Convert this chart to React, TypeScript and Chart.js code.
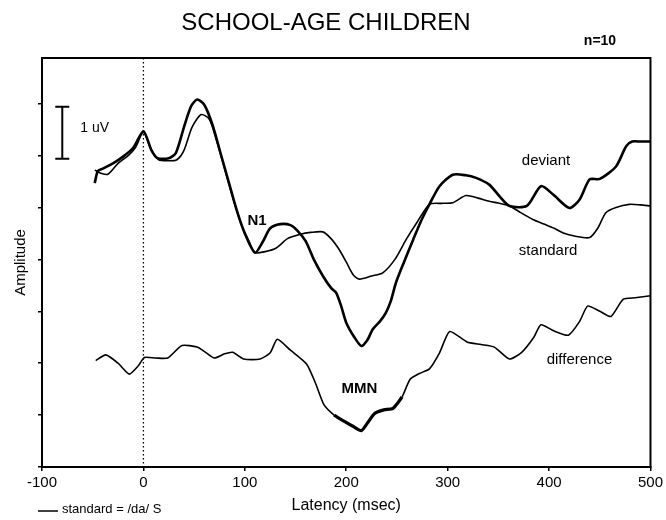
import React, { useEffect, useRef } from "react";
import { Chart, registerables } from "chart.js";

Chart.register(...registerables);

// ---- Data (latency in msec, amplitude in uV, arbitrary baseline) ----
const deviantLatency = [-48, -45, -40, -30, -20, -10, 0, 8, 14, 25, 32, 40, 47, 53, 60, 68, 76, 84, 92, 100, 110, 118, 125, 135, 145, 152, 160, 168, 177, 185, 190, 195, 200, 208, 215, 221, 226, 233, 239, 244, 249, 257, 266, 274, 282, 292, 305, 318, 328, 341, 351, 361, 378, 392, 404, 420, 430, 440, 450, 466, 476, 482, 490, 500];
const deviantAmp = [5.47, 5.7, 5.75, 5.85, 5.98, 6.15, 6.47, 6.1, 5.95, 5.95, 6.05, 6.55, 6.95, 7.08, 6.98, 6.6, 6.05, 5.5, 4.95, 4.5, 4.13, 4.35, 4.6, 4.68, 4.66, 4.55, 4.35, 4.0, 3.68, 3.45, 3.36, 3.1, 2.78, 2.5, 2.33, 2.45, 2.65, 2.8, 2.97, 3.2, 3.55, 3.95, 4.38, 4.75, 5.06, 5.41, 5.63, 5.62, 5.57, 5.44, 5.22, 5.03, 5.03, 5.41, 5.25, 4.99, 5.15, 5.54, 5.55, 5.79, 6.18, 6.27, 6.27, 6.27];

const standardLatency = [-48, -42, -35, -25, -15, -8, 0, 8, 15, 25, 33, 40, 48, 57, 65, 72, 80, 88, 96, 104, 110, 120, 131, 142, 154, 165, 177, 185, 193, 200, 207, 213, 225, 236, 248, 259, 270, 282, 294, 305, 318, 330, 341, 351, 361, 372, 384, 395, 405, 414, 425, 440, 448, 456, 466, 479, 490, 500];
const standardAmp = [5.72, 5.66, 5.64, 5.85, 6.0, 6.15, 6.45, 6.1, 5.92, 5.9, 5.92, 6.1, 6.55, 6.79, 6.7, 6.3, 5.75, 5.2, 4.7, 4.35, 4.13, 4.15, 4.22, 4.4, 4.48, 4.52, 4.53, 4.4, 4.19, 3.95, 3.7, 3.62, 3.68, 3.74, 4.0, 4.38, 4.72, 5.06, 5.08, 5.09, 5.23, 5.18, 5.12, 5.08, 5.03, 4.9, 4.77, 4.68, 4.6, 4.51, 4.45, 4.42, 4.6, 4.9, 5.0, 5.06, 5.05, 5.03];

const differenceLatency = [-47, -37, -25, -14, -5, 1, 12, 24, 38, 53, 62, 70, 80, 88, 99, 115, 125, 132, 145, 161, 170, 178, 188, 199, 207, 215, 221, 228, 237, 246, 255, 263, 272, 282, 292, 302, 319, 333, 346, 361, 373, 385, 392, 405, 419, 430, 438, 450, 461, 473, 485, 500];
const differenceAmp = [2.05, 2.16, 2.0, 1.79, 1.95, 2.11, 2.1, 2.1, 2.34, 2.31, 2.2, 2.1, 2.18, 2.21, 2.08, 2.08, 2.2, 2.46, 2.25, 1.98, 1.6, 1.2, 1.0, 0.87, 0.78, 0.7, 0.85, 1.03, 1.1, 1.13, 1.35, 1.69, 1.8, 1.89, 2.2, 2.61, 2.41, 2.36, 2.31, 2.08, 2.21, 2.5, 2.74, 2.62, 2.54, 2.8, 3.1, 3.0, 2.9, 3.23, 3.26, 3.3];

const xTickValues = [-100, 0, 100, 200, 300, 400, 500];
const yTickValues = [0, 1, 2, 3, 4, 5, 6, 7];

const titleText = "SCHOOL-AGE CHILDREN";
const sampleText = "n=10";
const xTitle = "Latency (msec)";
const yTitle = "Amplitude";
const legendText = "standard = /da/ S";
const scaleBarText = "1 uV";
const scaleBarUV = 1;

// wave labels: [text, latency, amplitude]
const waveLabels: [string, number, number][] = [
  ["deviant", 397, 5.89],
  ["standard", 399, 4.16],
  ["difference", 430, 2.07],
  ["N1", 112, 4.75],
  ["MMN", 213, 1.5],
];

const FONT = "'Liberation Sans', Arial, Helvetica, sans-serif";

const toXY = (xs: number[], ys: number[]) => xs.map((x, i) => ({ x, y: ys[i] }));

const decorations = {
  id: "decorations",
  afterDatasetsDraw(chart: any) {
    const { ctx, chartArea, scales } = chart;
    const xs = scales.x;
    const ys = scales.y;
    ctx.save();
    // frame
    ctx.strokeStyle = "#000";
    ctx.lineWidth = 2;
    ctx.strokeRect(chartArea.left, chartArea.top, chartArea.right - chartArea.left, chartArea.bottom - chartArea.top);
    // stimulus onset dotted line
    const x0 = xs.getPixelForValue(0);
    ctx.lineWidth = 1.3;
    ctx.setLineDash([1.5, 2.5]);
    ctx.beginPath();
    ctx.moveTo(x0, chartArea.top);
    ctx.lineTo(x0, chartArea.bottom);
    ctx.stroke();
    ctx.setLineDash([]);

    ctx.fillStyle = "#000";
    // title
    ctx.font = `24px ${FONT}`;
    ctx.textAlign = "center";
    ctx.textBaseline = "middle";
    ctx.fillText(titleText, 326, 23);
    ctx.font = `bold 14px ${FONT}`;
    ctx.fillText(sampleText, 600, 41);

    // wave labels
    for (const [t, lx, ly] of waveLabels) {
      ctx.font = (t === "N1" || t === "MMN") ? `bold 15px ${FONT}` : `15px ${FONT}`;
      ctx.fillText(t, xs.getPixelForValue(lx), ys.getPixelForValue(ly));
    }

    // scale bar
    const sbx = xs.getPixelForValue(-80);
    const sbTop = ys.getPixelForValue(5.94 + scaleBarUV);
    const sbBot = ys.getPixelForValue(5.94);
    ctx.lineWidth = 2;
    ctx.beginPath();
    ctx.moveTo(sbx, sbTop);
    ctx.lineTo(sbx, sbBot);
    ctx.moveTo(sbx - 7, sbTop);
    ctx.lineTo(sbx + 7, sbTop);
    ctx.moveTo(sbx - 7, sbBot);
    ctx.lineTo(sbx + 7, sbBot);
    ctx.stroke();
    ctx.font = `14px ${FONT}`;
    ctx.textAlign = "left";
    ctx.fillText(scaleBarText, sbx + 18, sbTop + 21);

    // legend
    ctx.lineWidth = 1.5;
    ctx.beginPath();
    ctx.moveTo(38, 511);
    ctx.lineTo(58, 511);
    ctx.stroke();
    ctx.font = `13px ${FONT}`;
    ctx.fillText(legendText, 62, 509);
    ctx.restore();
  },
};

export default function App() {
  const ref = useRef<HTMLCanvasElement | null>(null);

  useEffect(() => {
    if (!ref.current) return;
    const tickFont = { family: FONT, size: 15 };
    const chart = new Chart(ref.current, {
      type: "line",
      data: {
        datasets: [
          {
            label: "deviant",
            data: toXY(deviantLatency, deviantAmp),
            borderColor: "#000",
            borderWidth: 2.6,
            pointRadius: 0,
            tension: 0.25,
            fill: false,
          },
          {
            label: "standard",
            data: toXY(standardLatency, standardAmp),
            borderColor: "#000",
            borderWidth: 1.6,
            pointRadius: 0,
            tension: 0.25,
            fill: false,
          },
          {
            label: "difference",
            data: toXY(differenceLatency, differenceAmp),
            borderColor: "#000",
            borderWidth: 1.6,
            pointRadius: 0,
            tension: 0.2,
            fill: false,
            segment: {
              borderWidth: (c: any) => {
                const a = c.p0.parsed.x;
                return a >= 180 && a < 250 ? 3.2 : 1.6;
              },
            },
          },
        ],
      },
      options: {
        animation: false,
        responsive: false,
        devicePixelRatio: 1,
        parsing: false,
        layout: { padding: { top: 58, right: 15, left: 0, bottom: 0 } },
        plugins: {
          legend: { display: false },
          tooltip: { enabled: false },
          title: { display: false },
        },
        scales: {
          x: {
            type: "linear",
            min: -100,
            max: 500,
            afterBuildTicks: (s: any) => {
              s.ticks = xTickValues.map((v) => ({ value: v }));
            },
            afterFit: (s: any) => {
              s.height = 53;
            },
            ticks: {
              color: "#000",
              font: tickFont,
              padding: 3,
              maxRotation: 0,
              autoSkip: false,
            },
            grid: { display: true, drawOnChartArea: false, drawTicks: true, tickLength: 4, color: "#000", lineWidth: 1.5 },
            border: { display: true, color: "#000", width: 2 },
            title: {
              display: true,
              text: xTitle,
              color: "#000",
              font: { family: FONT, size: 16 },
              padding: { top: 0, bottom: 5 },
            },
          },
          y: {
            type: "linear",
            min: 0,
            max: 7.88,
            afterBuildTicks: (s: any) => {
              s.ticks = yTickValues.map((v) => ({ value: v }));
            },
            afterFit: (s: any) => {
              s.width = 42;
            },
            ticks: { display: false },
            grid: { display: true, drawOnChartArea: false, drawTicks: true, tickLength: 4, color: "#000", lineWidth: 1.5 },
            border: { display: true, color: "#000", width: 2 },
            title: {
              display: true,
              text: yTitle,
              color: "#000",
              font: { family: FONT, size: 15 },
              padding: { top: 12, bottom: 0 },
            },
          },
        },
      },
      plugins: [decorations],
    } as any);
    return () => chart.destroy();
  }, []);

  return (
    <div style={{ position: "absolute", left: 0, top: 0, width: 666, height: 520, background: "#fff" }}>
      <canvas ref={ref} width={666} height={520} style={{ display: "block", width: 666, height: 520 }} />
    </div>
  );
}
